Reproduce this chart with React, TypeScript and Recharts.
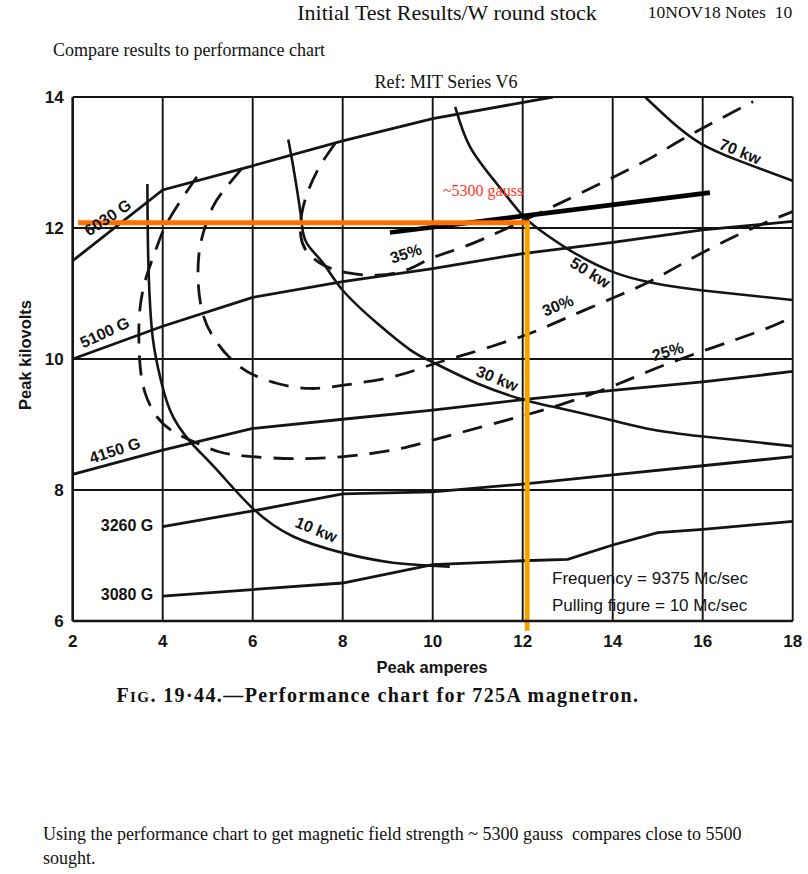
import React from 'react'
import { LineChart, Line, XAxis, YAxis, CartesianGrid, ReferenceLine } from 'recharts'

type Pt = { x: number; y: number }
const pts = (a: number[][]): Pt[] => a.map(([x, y]) => ({ x, y }))

const ampTicks = [2, 4, 6, 8, 10, 12, 14, 16, 18]
const kvTicks = [6, 8, 10, 12, 14]

// constant magnetic field lines (peak amperes, peak kilovolts)
const g6030 = [[2, 11.5], [4, 12.58], [6, 12.95], [8, 13.33], [10, 13.67], [12.67, 14]]
const g5100 = [[2, 10], [4, 10.5], [6, 10.94], [8, 11.18], [10, 11.38], [12, 11.61], [14, 11.78], [16, 11.97], [18, 12.1]]
const g4150 = [[2, 8.24], [4, 8.61], [6, 8.94], [8, 9.08], [10, 9.22], [12, 9.38], [14, 9.52], [16, 9.65], [18, 9.81]]
const g3260 = [[4, 7.44], [6, 7.68], [8, 7.94], [10, 7.97], [12, 8.09], [14, 8.23], [16, 8.37], [18, 8.51]]
const g3080 = [[4, 6.38], [6, 6.48], [8, 6.58], [10, 6.86], [12, 6.92], [13, 6.94], [14, 7.16], [15, 7.35], [16, 7.4], [18, 7.52]]

// constant output power
const kw10 = [[3.66, 12.67], [3.68, 11.5], [3.76, 10.44], [3.9, 9.85], [4.16, 9.22], [4.61, 8.74], [5.2, 8.31], [6, 7.72], [6.9, 7.29], [8, 7.04], [9.12, 6.89], [10.38, 6.83]]
const kw30 = [[6.79, 13.35], [6.9, 12.94], [7.02, 12.43], [7.09, 12.07], [7.2, 11.77], [7.57, 11.46], [8, 11.05], [8.76, 10.55], [9.5, 10.14], [10, 9.95], [10.98, 9.63], [12, 9.38], [12.68, 9.27], [14, 9.06], [14.9, 8.92], [15.96, 8.82], [18, 8.67]]
const kw50 = [[10.5, 13.85], [10.83, 13.24], [11.42, 12.68], [11.96, 12.22], [12.38, 11.97], [13.05, 11.66], [14, 11.33], [14.9, 11.16], [15.96, 11.05], [18, 10.9]]
const kw70 = [[14.72, 14], [15.35, 13.6], [15.96, 13.29], [16.76, 13.04], [18, 12.72]]

// constant efficiency (dashed)
const eff25 = [[4.76, 12.78], [4.46, 12.48], [4.09, 12.07], [3.87, 11.71], [3.64, 11.26], [3.5, 10.8], [3.47, 10.34], [3.5, 9.88], [3.61, 9.48], [3.87, 9.12], [4.24, 8.89], [4.68, 8.74], [5.27, 8.58], [5.98, 8.51], [6.9, 8.48], [8.02, 8.51], [9.12, 8.61], [10, 8.76], [11.5, 9.04], [12.83, 9.3], [14.16, 9.63], [15.35, 9.96], [17.12, 10.39], [17.87, 10.6]]
const eff30 = [[5.76, 12.91], [5.42, 12.63], [5.12, 12.33], [4.9, 11.92], [4.8, 11.56], [4.79, 11.16], [4.87, 10.75], [5.12, 10.34], [5.72, 9.88], [6.53, 9.63], [7.28, 9.55], [8.02, 9.6], [9.12, 9.73], [10, 9.92], [10.83, 10.09], [11.96, 10.34], [12.68, 10.54], [14, 10.93], [14.9, 11.21], [15.96, 11.61], [17.12, 12.0], [18, 12.25]]
const eff35 = [[7.83, 13.29], [7.49, 12.94], [7.24, 12.58], [7.09, 12.22], [7.07, 11.87], [7.24, 11.61], [7.64, 11.41], [8.16, 11.31], [8.76, 11.28], [9.42, 11.36], [9.94, 11.53], [10.68, 11.71], [11.57, 11.97], [12.68, 12.33], [14, 12.77], [14.9, 13.09], [15.64, 13.39], [17.12, 13.93]]

// operating line (~5300 gauss) and the reading at 12 A
const g5300 = [[9.05, 11.93], [16.16, 12.54]]
const readAmps = 12.1
const readKv = 12.08
const readStartAmps = 2.12
const axisFloorKv = 5.85

const ink = '#141414'

const solidSeries = [
  { id: 'g6030', data: g6030 },
  { id: 'g5100', data: g5100 },
  { id: 'g4150', data: g4150 },
  { id: 'g3260', data: g3260 },
  { id: 'g3080', data: g3080 },
]
const curveSeries = [
  { id: 'kw10', data: kw10 },
  { id: 'kw30', data: kw30 },
  { id: 'kw50', data: kw50 },
  { id: 'kw70', data: kw70 },
]
const dashSeries = [
  { id: 'eff25', data: eff25 },
  { id: 'eff30', data: eff30 },
  { id: 'eff35', data: eff35 },
]

const tickFont = { fontFamily: 'Liberation Sans', fontWeight: 700, fontSize: 17, fill: ink }

function Txt({ x, y, rot = 0, children, style }: any) {
  return (
    <div
      style={{
        position: 'absolute',
        left: x,
        top: y,
        transform: `translate(-50%, -50%) rotate(${rot}deg)`,
        whiteSpace: 'nowrap',
        lineHeight: 1,
        ...style,
      }}
    >
      {children}
    </div>
  )
}

const lbl = { fontFamily: 'Liberation Sans', fontWeight: 700, fontSize: 16, color: ink }
const serif = { fontFamily: 'Liberation Serif', color: '#111' }

export default function App() {
  return (
    <div style={{ position: 'absolute', left: 0, top: 0, width: 808, height: 874, background: '#fff', overflow: 'hidden' }}>
      <LineChart width={808} height={874} margin={{ top: 97, right: 15.3, bottom: 223, left: 32.7 }}>
        <CartesianGrid stroke={ink} strokeWidth={1.9} />
        <XAxis
          type="number"
          dataKey="x"
          domain={[2, 18]}
          ticks={ampTicks}
          allowDataOverflow
          height={30}
          tickSize={0}
          tickMargin={14}
          axisLine={{ stroke: ink, strokeWidth: 2.4 }}
          tick={tickFont}
        />
        <YAxis
          type="number"
          dataKey="y"
          domain={[6, 14]}
          ticks={kvTicks}
          allowDataOverflow
          width={40}
          tickSize={0}
          tickMargin={9}
          axisLine={{ stroke: ink, strokeWidth: 2.4 }}
          tick={tickFont}
        />
        {solidSeries.map(s => (
          <Line key={s.id} data={pts(s.data)} dataKey="y" type="linear" stroke={ink} strokeWidth={2.8} dot={false} isAnimationActive={false} />
        ))}
        {curveSeries.map(s => (
          <Line key={s.id} data={pts(s.data)} dataKey="y" type="natural" stroke={ink} strokeWidth={2.6} dot={false} isAnimationActive={false} />
        ))}
        {dashSeries.map(s => (
          <Line key={s.id} data={pts(s.data)} dataKey="y" type="natural" stroke={ink} strokeWidth={2.8} strokeDasharray="20 12" dot={false} isAnimationActive={false} />
        ))}
        <Line data={pts(g5300)} dataKey="y" type="linear" stroke="#000" strokeWidth={4.6} dot={false} isAnimationActive={false} />
        <ReferenceLine
          segment={[{ x: readStartAmps, y: readKv }, { x: readAmps + 0.06, y: readKv }]}
          stroke="#ff7000"
          strokeWidth={5}
          ifOverflow="visible"
        />
        <ReferenceLine
          segment={[{ x: readAmps, y: readKv }, { x: readAmps, y: axisFloorKv }]}
          stroke="#f6a300"
          strokeWidth={5}
          ifOverflow="visible"
        />
      </LineChart>

      {/* page text */}
      <Txt x={447} y={13} style={{ ...serif, fontSize: 22 }}>Initial Test Results/W round stock</Txt>
      <Txt x={720} y={13} style={{ ...serif, fontSize: 17.5 }}>10NOV18 Notes&nbsp;&nbsp;10</Txt>
      <div style={{ position: 'absolute', left: 53, top: 40, ...serif, fontSize: 18, whiteSpace: 'nowrap' }}>Compare results to performance chart</div>
      <Txt x={446} y={82} style={{ ...serif, fontSize: 18 }}>Ref: MIT Series V6</Txt>

      {/* axis titles */}
      <Txt x={25} y={355} rot={-90} style={{ ...lbl, fontSize: 16.5 }}>Peak kilovolts</Txt>
      <Txt x={432} y={667} style={{ ...lbl, fontSize: 16.5 }}>Peak amperes</Txt>
      <Txt x={378} y={695} style={{ ...serif, fontSize: 20, fontWeight: 700, letterSpacing: 1.4 }}>
        F<span style={{ fontSize: 15 }}>IG</span>. 19·44.—Performance chart for 725A magnetron.
      </Txt>

      {/* curve labels */}
      <Txt x={108} y={218} rot={-34} style={lbl}>6030 G</Txt>
      <Txt x={105} y={333} rot={-25} style={lbl}>5100 G</Txt>
      <Txt x={115} y={451} rot={-18} style={lbl}>4150 G</Txt>
      <Txt x={127} y={526} style={lbl}>3260 G</Txt>
      <Txt x={127} y={595} style={lbl}>3080 G</Txt>
      <Txt x={406} y={254} rot={-18} style={lbl}>35%</Txt>
      <Txt x={558} y={306} rot={-22} style={lbl}>30%</Txt>
      <Txt x={668} y={352} rot={-16} style={lbl}>25%</Txt>
      <Txt x={740} y={152} rot={22} style={lbl}>70 kw</Txt>
      <Txt x={590} y={273} rot={32} style={lbl}>50 kw</Txt>
      <Txt x={497} y={379} rot={22} style={lbl}>30 kw</Txt>
      <Txt x={316} y={530} rot={22} style={lbl}>10 kw</Txt>
      <div style={{ position: 'absolute', left: 552, top: 569, ...lbl, fontWeight: 400, fontSize: 17, whiteSpace: 'nowrap' }}>Frequency = 9375 Mc/sec</div>
      <div style={{ position: 'absolute', left: 552, top: 596, ...lbl, fontWeight: 400, fontSize: 17, whiteSpace: 'nowrap' }}>Pulling figure = 10 Mc/sec</div>
      <Txt x={483} y={191} style={{ fontFamily: 'Liberation Serif', fontSize: 16, color: '#ff3a2a' }}>~5300 gauss</Txt>

      {/* footer */}
      <div style={{ position: 'absolute', left: 43, top: 822, ...serif, fontSize: 18, lineHeight: '24px', whiteSpace: 'nowrap' }}>
        Using the performance chart to get magnetic field strength ~ 5300 gauss&nbsp; compares close to 5500
        <br />
        sought.
      </div>
    </div>
  )
}
